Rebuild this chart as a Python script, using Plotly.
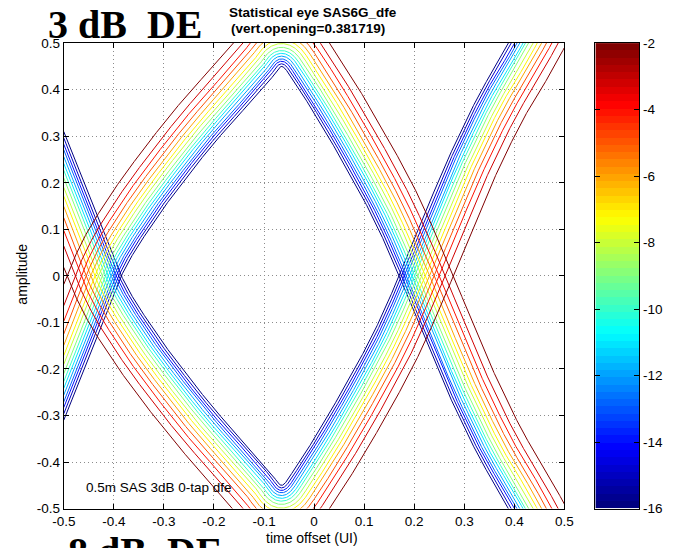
import numpy as np
import plotly.graph_objects as go

# ---------------- data ----------------
# BER contour levels (log10), innermost -16 ... outermost -2
levels = [-16, -15, -14, -13, -12, -11, -10, -9, -8, -7, -6, -5, -4, -3, -2]
# horizontal / vertical spread of each contour away from the innermost (-16) one
offset_ui = [0.0, 0.0046, 0.0092, 0.0133, 0.0183, 0.0233, 0.0283, 0.034,
             0.041, 0.0475, 0.055, 0.0633, 0.0725, 0.0833, 0.098]
offset_amp = [0.0, 0.0055, 0.011, 0.016, 0.022, 0.028, 0.034, 0.041,
              0.049, 0.057, 0.066, 0.076, 0.087, 0.100, 0.118]

# innermost (-16) eye boundary: upper (worst "1") and lower (worst "0")
upper_t = [-0.62, -0.5, -0.44, -0.385, -0.33, -0.27, -0.2, -0.13, -0.085, -0.065,
           -0.045, 0.0, 0.06, 0.12, 0.17, 0.22, 0.265, 0.33, 0.39, 0.5, 0.62]
upper_y = [-0.64, -0.31, -0.15, 0.0, 0.10, 0.19, 0.285, 0.37, 0.425, 0.45,
           0.425, 0.35, 0.24, 0.12, 0.0, -0.13, -0.245, -0.39, -0.5, -0.72, -0.96]
lower_t = [-0.62, -0.5, -0.44, -0.385, -0.33, -0.27, -0.2, -0.13, -0.085, -0.065,
           -0.045, 0.0, 0.06, 0.12, 0.17, 0.22, 0.265, 0.33, 0.39, 0.5, 0.62]
lower_y = [0.64, 0.31, 0.15, 0.0, -0.10, -0.19, -0.285, -0.37, -0.425, -0.45,
           -0.425, -0.35, -0.24, -0.12, 0.0, 0.13, 0.245, 0.39, 0.5, 0.72, 0.96]

x_tick_vals = [-0.5, -0.4, -0.3, -0.2, -0.1, 0.0, 0.1, 0.2, 0.3, 0.4, 0.5]
x_tick_text = ["-0.5", "-0.4", "-0.3", "-0.2", "-0.1", "0", "0.1", "0.2", "0.3", "0.4", "0.5"]
y_tick_vals = [-0.5, -0.4, -0.3, -0.2, -0.1, 0.0, 0.1, 0.2, 0.3, 0.4, 0.5]
y_tick_text = ["-0.5", "-0.4", "-0.3", "-0.2", "-0.1", "0", "0.1", "0.2", "0.3", "0.4", "0.5"]
cbar_tick_vals = [-16, -14, -12, -10, -8, -6, -4, -2]
cbar_tick_text = ["-16", "-14", "-12", "-10", "-8", "-6", "-4", "-2"]
cbar_range = [-16, -2]

title_line1 = "<b>Statistical eye SAS6G_dfe</b>"
title_line2 = "<b>(vert.opening=0.381719)</b>"
note_text = "0.5m SAS 3dB 0-tap dfe"

# ---------------- helpers ----------------
def jet(u):
    u = min(max(u, 0.0), 1.0)
    r = min(max(min(4 * u - 1.5, -4 * u + 4.5), 0), 1)
    g = min(max(min(4 * u - 0.5, -4 * u + 3.5), 0), 1)
    b = min(max(min(4 * u + 0.5, -4 * u + 2.5), 0), 1)
    return "rgb(%d,%d,%d)" % (round(r * 255), round(g * 255), round(b * 255))


def jet64(z):
    u = (z - cbar_range[0]) / (cbar_range[1] - cbar_range[0])
    return jet(round(u * 63) / 63)


def smooth(tp, yp, tq):
    """Cubic Hermite (Catmull-Rom style) curve through the read points."""
    tp = np.asarray(tp, float)
    yp = np.asarray(yp, float)
    n = len(tp)
    m = np.empty(n)
    m[1:-1] = (yp[2:] - yp[:-2]) / (tp[2:] - tp[:-2])
    m[0] = (yp[1] - yp[0]) / (tp[1] - tp[0])
    m[-1] = (yp[-1] - yp[-2]) / (tp[-1] - tp[-2])
    tq = np.clip(tq, tp[0], tp[-1])
    i = np.clip(np.searchsorted(tp, tq) - 1, 0, n - 2)
    h = tp[i + 1] - tp[i]
    s = (tq - tp[i]) / h
    h00 = 2 * s ** 3 - 3 * s ** 2 + 1
    h10 = s ** 3 - 2 * s ** 2 + s
    h01 = -2 * s ** 3 + 3 * s ** 2
    h11 = s ** 3 - s ** 2
    return h00 * yp[i] + h10 * h * m[i] + h01 * yp[i + 1] + h11 * h * m[i + 1]


t_grid = np.linspace(-0.5, 0.5, 1201)


def dilate(tp, yp, a, b, sign):
    if a <= 0:
        return smooth(tp, yp, t_grid)
    s = np.linspace(-a, a, 81)
    bump = b * np.sqrt(np.clip(1 - (s / a) ** 2, 0, None))
    vals = smooth(tp, yp, t_grid[:, None] + s[None, :]) + sign * bump[None, :]
    return vals.max(axis=1) if sign > 0 else vals.min(axis=1)


FONT = "Liberation Sans, Arial, sans-serif"
SERIF = "Liberation Serif, Times New Roman, serif"

# page geometry: the page shows the figure slightly scaled and offset
S, CX, CY = 0.97, 10.2, 7.0
W, H = 684, 558


def fx(px):
    return ((px - CX) / S) / W


def fy(py):
    return 1 - ((py - CY) / S) / H


ax_l, ax_r, ax_t, ax_b = 62, 563, 43, 507
cb_l, cb_r = 594, 638

fig = go.Figure()

for lev, a, b in zip(levels, offset_ui, offset_amp):
    col = jet64(lev)
    yu = dilate(upper_t, upper_y, a, b, +1)
    yl = dilate(lower_t, lower_y, a, b, -1)
    for yy in (yu, yl):
        fig.add_trace(go.Scatter(x=t_grid, y=yy, mode="lines",
                                 line=dict(color=col, width=1),
                                 showlegend=False, hoverinfo="skip"))

# colour bar drawn as its own axis with a 64-step jet swatch
n_cb = 64
cb_scale = [[i / (n_cb - 1), jet(i / (n_cb - 1))] for i in range(n_cb)]
fig.add_trace(go.Heatmap(z=[[i] for i in range(n_cb)], x=[0],
                         y0=cbar_range[0] + (cbar_range[1] - cbar_range[0]) / n_cb / 2,
                         dy=(cbar_range[1] - cbar_range[0]) / n_cb,
                         colorscale=cb_scale, zmin=0, zmax=n_cb - 1,
                         showscale=False, xaxis="x2", yaxis="y2", hoverinfo="skip"))

common = dict(showline=True, linecolor="black", linewidth=1, mirror="ticks",
              ticks="inside", ticklen=5, tickcolor="black", zeroline=False,
              tickfont=dict(family=FONT, size=13.5, color="black"))
grid = dict(showgrid=True, gridcolor="rgb(140,140,140)", griddash="1px,3px", gridwidth=1)

fig.update_layout(
    width=W, height=H, margin=dict(l=0, r=0, t=0, b=0),
    paper_bgcolor="white", plot_bgcolor="white", showlegend=False,
    xaxis=dict(domain=[fx(ax_l), fx(ax_r)], range=[-0.5, 0.5],
               tickvals=x_tick_vals, ticktext=x_tick_text, anchor="y", **grid, **common),
    yaxis=dict(domain=[fy(ax_b), fy(ax_t)], range=[-0.5, 0.5],
               tickvals=y_tick_vals, ticktext=y_tick_text, anchor="x", **grid, **common),
    xaxis2=dict(domain=[fx(cb_l), fx(cb_r)], range=[-0.5, 0.5], anchor="y2",
                showticklabels=False, showline=True, linecolor="black", mirror=True,
                ticks="", showgrid=False, zeroline=False),
    yaxis2=dict(domain=[fy(ax_b), fy(ax_t)], range=cbar_range, anchor="x2",
                side="right", tickvals=cbar_tick_vals, ticktext=cbar_tick_text,
                showgrid=False, **common),
)

ann = [
    dict(text=title_line1, x=fx(311), y=fy(12), xref="paper", yref="paper",
         xanchor="center", yanchor="middle", showarrow=False,
         font=dict(family=FONT, size=13.5, color="black")),
    dict(text=title_line2, x=fx(306), y=fy(28), xref="paper", yref="paper",
         xanchor="center", yanchor="middle", showarrow=False,
         font=dict(family=FONT, size=13.5, color="black")),
    dict(text="<b>3 dB\u00a0 DE</b>", x=fx(44), y=fy(24.5), xref="paper", yref="paper",
         xanchor="left", yanchor="middle", showarrow=False,
         font=dict(family=SERIF, size=40, color="black")),
    dict(text="<b>8 dB\u00a0 DE</b>", x=fx(64), y=fy(550), xref="paper", yref="paper",
         xanchor="left", yanchor="middle", showarrow=False,
         font=dict(family=SERIF, size=40, color="black")),
    dict(text="time offset (UI)", x=fx(310), y=fy(536), xref="paper", yref="paper",
         xanchor="center", yanchor="middle", showarrow=False,
         font=dict(family=FONT, size=14, color="black")),
    dict(text="amplitude", x=fx(20), y=fy(273), xref="paper", yref="paper",
         xanchor="center", yanchor="middle", textangle=-90, showarrow=False,
         font=dict(family=FONT, size=14, color="black")),
    dict(text=note_text, x=-0.459, y=-0.455, xref="x", yref="y",
         xanchor="left", yanchor="middle", showarrow=False,
         font=dict(family=FONT, size=13.5, color="black")),
]
fig.update_layout(annotations=ann)

fig.write_html("out.html")
